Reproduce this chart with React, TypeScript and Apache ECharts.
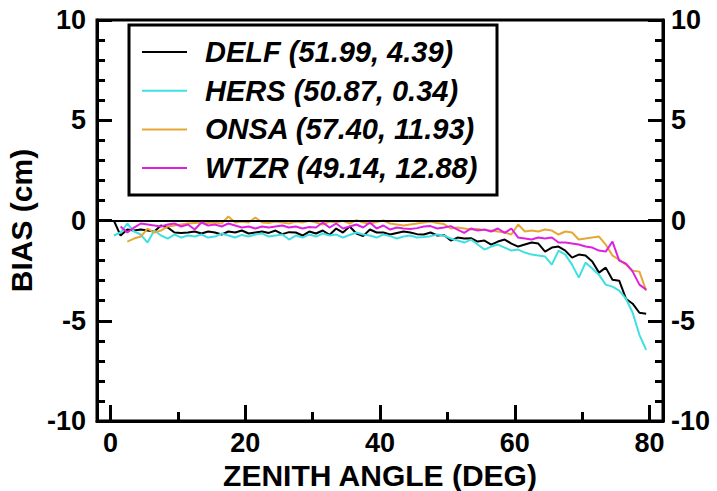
import React, { useEffect, useRef } from "react";
import * as echarts from "echarts";

const zenith = [
  0.5, 1.5, 2.5, 3.5, 4.5, 5.5, 6.5, 7.5, 8.5, 9.5,
  10.5, 11.5, 12.5, 13.5, 14.5, 15.5, 16.5, 17.5, 18.5, 19.5,
  20.5, 21.5, 22.5, 23.5, 24.5, 25.5, 26.5, 27.5, 28.5, 29.5,
  30.5, 31.5, 32.5, 33.5, 34.5, 35.5, 36.5, 37.5, 38.5, 39.5,
  40.5, 41.5, 42.5, 43.5, 44.5, 45.5, 46.5, 47.5, 48.5, 49.5,
  50.5, 51.5, 52.5, 53.5, 54.5, 55.5, 56.5, 57.5, 58.5, 59.5,
  60.5, 61.5, 62.5, 63.5, 64.5, 65.5, 66.5, 67.5, 68.5, 69.5,
  70.5, 71.5, 72.5, 73.5, 74.5, 75.5, 76.5, 77.5, 78.5, 79.5,
];

const delf = [
  0.0, -0.75, -0.45, -0.5, -0.45, -0.5, -0.55, -0.25, -0.35, -0.6,
  -0.62, -0.6, -0.55, -0.65, -0.55, -0.6, -0.7, -0.55, -0.6, -0.5,
  -0.65, -0.6, -0.55, -0.62, -0.5, -0.68, -0.58, -0.6, -0.75, -0.55,
  -0.65, -0.5, -0.72, -0.4, -0.6, -0.3, -0.65, -0.78, -0.45, -0.6,
  -0.6, -0.7, -0.62, -0.55, -0.6, -0.68, -0.7, -0.6, -0.75, -0.72,
  -1.0, -0.85, -0.9, -0.88, -1.05, -1.0, -1.2, -1.05, -0.95, -1.15,
  -1.3, -1.2, -1.1, -1.15, -1.55, -1.35, -1.3, -1.5, -1.85, -1.7,
  -1.75, -2.05, -2.6, -2.35, -2.95, -3.0, -3.9, -4.15, -4.6, -4.65,
];

const hers = [
  -0.75, -0.6, -0.15, -0.55, -0.7, -1.1, -0.5, -0.75, -0.9, -0.7,
  -0.85, -0.75, -0.8, -0.7, -0.85, -0.8, -0.65, -0.75, -0.85, -0.72,
  -0.8, -0.7, -0.65, -0.8, -0.75, -0.7, -0.95, -0.75, -0.85, -0.7,
  -0.8, -0.65, -0.75, -0.7, -0.85, -0.72, -0.6, -0.7, -0.75, -0.85,
  -0.7, -0.78, -0.9, -0.8, -0.75, -0.85, -0.82, -0.78, -0.7, -0.75,
  -0.9, -1.0, -1.1, -0.95, -1.2, -1.45, -1.3, -1.2, -1.35, -1.5,
  -1.45, -1.6, -1.7, -1.75, -1.8, -2.2, -1.5, -1.7, -2.2, -2.85,
  -2.1, -2.4, -2.7, -3.2, -3.3, -3.5, -3.9, -4.6, -5.7, -6.45,
];

const onsa = [
  null, null, -1.05, -0.9, -0.8, -0.4, -0.6, -0.5, -0.3, -0.25,
  -0.2, -0.15, -0.12, -0.1, -0.12, -0.1, -0.15, 0.2, -0.1, -0.05,
  -0.1, 0.15, -0.1, -0.12, -0.05, -0.1, -0.15, -0.05, -0.1, -0.02,
  -0.1, -0.2, -0.05, -0.1, -0.02, -0.15, 0.02, -0.1, -0.15, -0.08,
  0.0, -0.15, -0.2, -0.25, -0.2, -0.15, -0.1, -0.05, -0.12, -0.18,
  -0.4, -0.35, -0.4, -0.45, -0.42, -0.48, -0.5, -0.55, -0.6, -0.7,
  -0.2, -0.55, -0.5, -0.55, -0.45, -0.5, -0.7, -0.55, -0.6, -0.95,
  -0.9, -0.85, -0.8, -1.2, -1.75, -1.95, -2.2, -2.5, -2.55, -3.5,
];

const wtzr = [
  null, -0.3, -0.6, -0.35, -0.15, -0.2, -0.25, -0.3, -0.2, -0.15,
  -0.3, -0.2, -0.45, -0.1, -0.25, -0.2, -0.3, -0.15, -0.25, -0.35,
  -0.3, -0.4, -0.3, -0.35, -0.3, -0.25, -0.35, -0.3, -0.4, -0.32,
  -0.35, -0.1, -0.35, -0.15, -0.4, -0.3, -0.2, -0.35, -0.1, -0.4,
  -0.25, -0.45, -0.35, -0.4, -0.42, -0.38, -0.3, -0.28, -0.4, -0.35,
  -0.28, -0.45, -0.62, -0.4, -0.5, -0.45, -0.55, -0.4, -0.62, -0.4,
  -0.85, -0.9, -0.95, -0.85, -0.9, -0.85, -1.1, -1.1, -1.15, -1.2,
  -1.3, -1.35, -1.5, -1.55, -1.05, -2.0, -2.15, -2.55, -3.2, -3.45,
];

const stations = ["DELF", "HERS", "ONSA", "WTZR"];
const latitudes = ["51.99", "50.87", "57.40", "49.14"];
const longitudes = ["4.39", "0.34", "11.93", "12.88"];
const colors = ["#000000", "#40dfe2", "#e6a834", "#e020e0"];
const seriesValues = [delf, hers, onsa, wtzr];

const xMajorTicks = [0, 20, 40, 60, 80];
const xMinorTicks = [10, 30, 50, 70];

const FONT = '"Liberation Sans", Arial, Helvetica, sans-serif';

export default function App() {
  const ref = useRef<HTMLDivElement>(null);

  useEffect(() => {
    if (!ref.current) return;
    const chart = echarts.init(ref.current, undefined, { renderer: "svg" });

    const tickLine = { color: "#000", width: 3 };
    const labelStyle = {
      color: "#000",
      fontFamily: FONT,
      fontWeight: "bold" as const,
      fontSize: 27,
    };

    const yBase = (pos: "left" | "right") => ({
      type: "value" as const,
      position: pos,
      min: -10,
      max: 10,
      interval: 5,
      axisLine: { show: true, onZero: false, lineStyle: { color: "#000", width: 3 } },
      axisTick: { show: true, inside: true, length: 15, lineStyle: tickLine },
      minorTick: { show: true, splitNumber: 5, length: 8, lineStyle: tickLine },
      axisLabel: {
        ...labelStyle,
        margin: pos === "left" ? 11 : 8,
        showMinLabel: true,
        showMaxLabel: true,
      },
      splitLine: { show: false },
      minorSplitLine: { show: false },
    });

    const legendRows = [52, 90.7, 129.4, 168.1];
    const graphic: any[] = [
      {
        type: "rect",
        shape: { x: 129, y: 25, width: 368, height: 170 },
        style: { fill: "#fff", stroke: "#000", lineWidth: 3 },
        z: 10,
      },
    ];
    stations.forEach((s, i) => {
      graphic.push({
        type: "line",
        shape: { x1: 142, y1: legendRows[i], x2: 187, y2: legendRows[i] },
        style: { stroke: colors[i], lineWidth: 2 },
        z: 11,
      });
      graphic.push({
        type: "text",
        x: 205,
        y: legendRows[i],
        style: {
          text: `${s} (${latitudes[i]}, ${longitudes[i]})`,
          fontFamily: FONT,
          fontWeight: "bold",
          fontStyle: "italic",
          fontSize: 29,
          fill: "#000",
          verticalAlign: "middle",
        },
        z: 11,
      });
    });

    const series: any[] = stations.map((s, i) => ({
      name: s,
      type: "line",
      xAxisIndex: 0,
      yAxisIndex: 0,
      data: zenith.map((x, j) => [x, seriesValues[i][j]]),
      showSymbol: false,
      connectNulls: false,
      lineStyle: { color: colors[i], width: 2 },
      itemStyle: { color: colors[i] },
      z: 2 + i,
    }));
    series[0].markLine = {
      silent: true,
      symbol: "none",
      label: { show: false },
      lineStyle: { color: "#000", width: 2, type: "solid" },
      data: [{ yAxis: 0 }],
    };

    chart.setOption({
      animation: false,
      backgroundColor: "#fff",
      grid: {
        left: 97,
        right: 54,
        top: 20,
        bottom: 70,
        outerBoundsMode: "none",
        containLabel: false,
        show: true,
        borderColor: "#000",
        borderWidth: 3,
        backgroundColor: "transparent",
      },
      xAxis: [
        {
          type: "value",
          position: "bottom",
          min: -2,
          max: 82,
          name: "ZENITH ANGLE (DEG)",
          nameLocation: "middle",
          nameGap: 38,
          nameTextStyle: { color: "#000", fontFamily: FONT, fontWeight: "bold", fontSize: 30, lineHeight: 30 },
          axisLine: { show: true, onZero: false, lineStyle: { color: "#000", width: 3 } },
          axisTick: { show: true, inside: true, length: 16, lineStyle: tickLine, customValues: xMajorTicks },
          axisLabel: { ...labelStyle, margin: 8, customValues: xMajorTicks },
          splitLine: { show: false },
        },
        {
          type: "value",
          position: "bottom",
          min: -2,
          max: 82,
          axisLine: { show: false, onZero: false },
          axisTick: { show: true, inside: true, length: 9, lineStyle: tickLine, customValues: xMinorTicks },
          axisLabel: { show: false },
          splitLine: { show: false },
        },
      ],
      yAxis: [
        {
          ...yBase("left"),
          name: "BIAS (cm)",
          nameLocation: "middle",
          nameGap: 53,
          nameRotate: 90,
          nameTextStyle: { color: "#000", fontFamily: FONT, fontWeight: "bold", fontSize: 30 },
        },
        yBase("right"),
      ],
      graphic,
      series,
    });

    return () => chart.dispose();
  }, []);

  return <div ref={ref} style={{ width: 717, height: 491, position: "absolute", left: 0, top: 0 }} />;
}
